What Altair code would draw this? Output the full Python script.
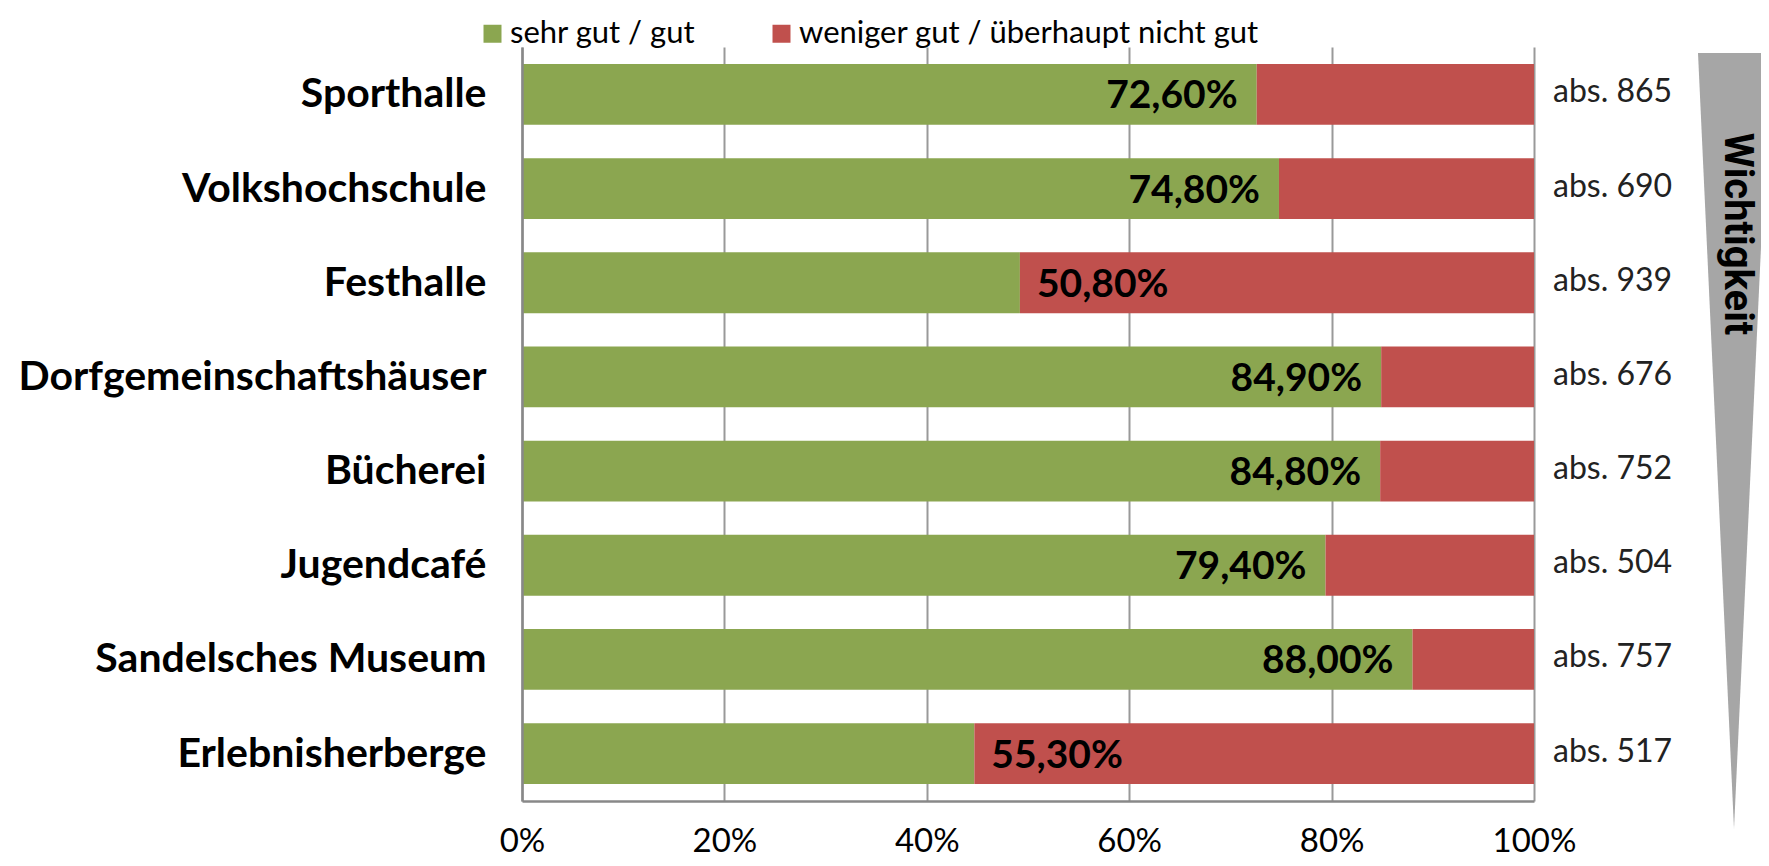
import altair as alt
import pandas as pd

categories = ["Sporthalle", "Volkshochschule", "Festhalle", "Dorfgemeinschaftshäuser",
              "Bücherei", "Jugendcafé", "Sandelsches Museum", "Erlebnisherberge"]
good = [72.6, 74.8, 49.2, 84.9, 84.8, 79.4, 88.0, 44.7]
bad = [27.4, 25.2, 50.8, 15.1, 15.2, 20.6, 12.0, 55.3]
abs_n = [865, 690, 939, 676, 752, 504, 757, 517]
x_ticks = [0, 20, 40, 60, 80, 100]
series = ["sehr gut / gut", "weniger gut / überhaupt nicht gut"]
colors = ["#8BA650", "#C0504D"]
side_title = "Wichtigkeit"

rows = []
for c, g, b in zip(categories, good, bad):
    rows.append({"category": c, "series": series[0], "start": 0.0, "end": g})
    rows.append({"category": c, "series": series[1], "start": g, "end": g + b})
bar_df = pd.DataFrame(rows)

lab_df = pd.DataFrame({
    "category": categories,
    "good": good,
    "bad": bad,
    "green_txt": [f"{g:.2f}".replace(".", ",") + "%" for g in good],
    "red_txt": [f"{b:.2f}".replace(".", ",") + "%" for b in bad],
    "abs_txt": [f"abs. {n}" for n in abs_n],
})

W, H = 1012, 754

yenc = alt.Y("category:N", sort=categories,
             scale=alt.Scale(paddingInner=0.354, paddingOuter=0.18),
             axis=alt.Axis(title=None, ticks=False, domainColor="#888888", domainWidth=2.5,
                           labelFont="Lato", labelFontSize=41, labelFontWeight="bold",
                           labelColor="black", labelPadding=36, labelBaseline="alphabetic",
                           labelOffset=13, labelLimit=800, zindex=1))

xscale = alt.Scale(domain=[0, 100], nice=False)

bars = alt.Chart(bar_df).mark_bar().encode(
    y=yenc,
    x=alt.X("start:Q", scale=xscale,
            axis=alt.Axis(values=x_ticks, labelExpr="datum.value + '%'", grid=True,
                          gridColor="#999999", gridWidth=2, domainColor="#888888",
                          domainWidth=2.5, ticks=False, labelFont="Lato", labelFontSize=33,
                          labelColor="black", labelBaseline="alphabetic", labelPadding=50,
                          labelFlush=False, labelOverlap=False, title=None)),
    x2="end:Q",
    color=alt.Color("series:N", scale=alt.Scale(domain=series, range=colors),
                    legend=alt.Legend(orient="none", legendX=-45, legendY=-29,
                                      direction="horizontal", title=None,
                                      symbolType="square", symbolSize=324,
                                      symbolStrokeWidth=0, labelFont="Lato",
                                      labelFontSize=31, labelColor="black",
                                      labelOffset=2, columnPadding=70, padding=0,
                                      labelLimit=0)),
)

green_lab = alt.Chart(lab_df).transform_filter("datum.good >= 50").mark_text(
    align="right", baseline="alphabetic", dx=-19, dy=14, font="Lato",
    fontWeight="bold", fontSize=39, color="black"
).encode(x=alt.X("good:Q", scale=xscale), y=alt.Y("category:N", sort=categories),
         text="green_txt:N")

red_lab = alt.Chart(lab_df).transform_filter("datum.good < 50").mark_text(
    align="left", baseline="alphabetic", dx=17, dy=14, font="Lato",
    fontWeight="bold", fontSize=39, color="black"
).encode(x=alt.X("good:Q", scale=xscale), y=alt.Y("category:N", sort=categories),
         text="red_txt:N")

abs_lab = alt.Chart(lab_df).mark_text(
    align="left", baseline="alphabetic", dx=19, dy=8, font="Lato",
    fontSize=32, color="#222222"
).encode(x=alt.datum(100), y=alt.Y("category:N", sort=categories), text="abs_txt:N")

one = pd.DataFrame({"k": [0]})
tri_path = "M -0.0928 -1 L 0.0928 -1 L 0 1 Z"
triangle = alt.Chart(one).mark_point(
    shape=tri_path, size=776 * 776, filled=True, color="#A6A6A6", opacity=1,
    strokeWidth=0
).encode(x=alt.value(1212), y=alt.value(394))

side = alt.Chart(one).mark_text(
    angle=90, font="Roboto", fontWeight="bold", fontSize=40, align="center",
    baseline="middle", color="black"
).encode(x=alt.value(1215), y=alt.value(187), text=alt.value(side_title))

chart = alt.layer(bars, green_lab, red_lab, abs_lab, triangle, side).properties(
    width=W, height=H,
    padding={"left": 514, "top": 39, "right": 227, "bottom": 57},
    autosize=alt.AutoSizeParams(type="none"),
).configure_view(stroke=None)

chart.save("out.html", embed_options={"renderer": "svg", "actions": False})
